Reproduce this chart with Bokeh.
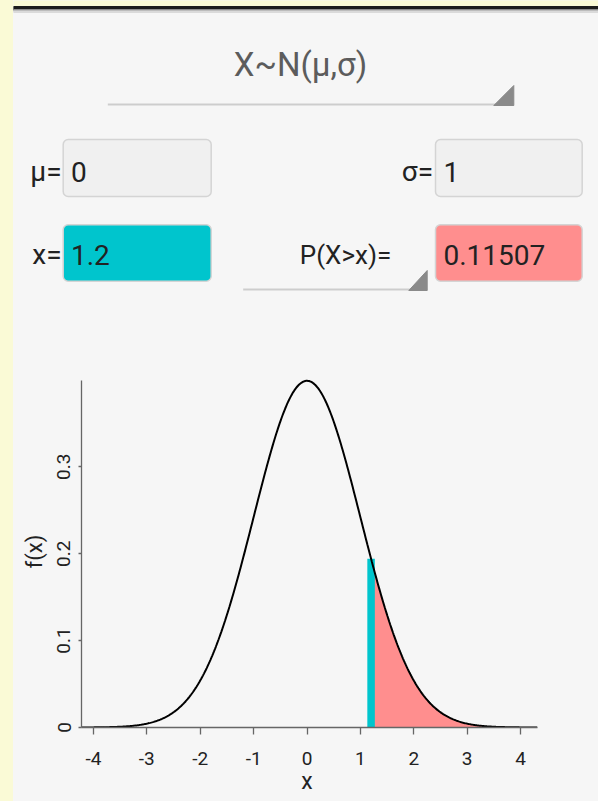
import math
from bokeh.plotting import figure
from bokeh.layouts import row, column
from bokeh.models import FixedTicker, Range1d, LinearAxis
from bokeh.core.properties import value
from bokeh.embed import file_html
from bokeh.resources import INLINE

# ---------------- data ----------------
mu_values = [0]
sigma_values = [1]
x_values = [1.2]
curve_limits = [-4.22, 4.31]
x_ticks = [-4, -3, -2, -1, 0, 1, 2, 3, 4]
x_tick_labels = ["-4", "-3", "-2", "-1", "0", "1", "2", "3", "4"]
y_ticks = [0, 0.1, 0.2, 0.3]
y_tick_labels = ["0", "0.1", "0.2", "0.3"]
title_text = "X~N(μ,σ)"
prob_text = "P(X>x)="
x_axis_label = "x"
y_axis_label = "f(x)"

mu = mu_values[0]
sigma = sigma_values[0]
x0 = x_values[0]


def dnorm(v):
    return math.exp(-0.5 * ((v - mu) / sigma) ** 2) / (sigma * math.sqrt(2 * math.pi))


p_upper = 0.5 * math.erfc((x0 - mu) / (sigma * math.sqrt(2)))

n = 500
curve_x = [curve_limits[0] + (curve_limits[1] - curve_limits[0]) * i / (n - 1) for i in range(n)]
curve_y = [dnorm(v) for v in curve_x]
tail_x = [x0] + [v for v in curve_x if v > x0]
tail_y = [dnorm(v) for v in tail_x]

# ---------------- styles ----------------
BG = "#F6F6F6"
YELLOW = "#FAFAD6"
CYAN = "#00C5CD"
RED = "#FF8E8E"
FONT = "Roboto"
TXT = "#222222"
W_MAIN = 585

# ---------------- left strip ----------------
strip = figure(width=13, height=801, x_range=(0, 1), y_range=(0, 1), min_border=0,
               output_backend="svg", toolbar_location=None)
strip.axis.visible = False
strip.grid.visible = False
strip.outline_line_color = None
strip.background_fill_color = YELLOW
strip.border_fill_color = YELLOW
strip.quad(left=[0], right=[1], bottom=[0], top=[1], color=YELLOW)
strip.frame_align = False

# ---------------- UI panel ----------------
ui = figure(width=W_MAIN, height=360, x_range=Range1d(13, 598), y_range=Range1d(360, 0),
            min_border=0, output_backend="svg", toolbar_location=None)
ui.frame_align = False
ui.axis.visible = False
ui.grid.visible = False
ui.outline_line_color = None
ui.background_fill_color = BG
ui.border_fill_color = BG

# top bar + shadow
ui.quad(left=[13], right=[598], top=[0], bottom=[6], color=YELLOW)
ui.quad(left=[13], right=[598], top=[6], bottom=[9.3], color="#1c1c1c")
ui.quad(left=[13], right=[598], top=[9.3], bottom=[10.6], color="#a8a8a8")
ui.quad(left=[13], right=[598], top=[10.6], bottom=[12], color="#dadada")

# title spinner
ui.text(x=[300], y=[64], text=[title_text], text_align="center", text_baseline="middle",
        text_font=value(FONT), text_font_size="33px", text_color="#5c5c5c")
ui.segment(x0=[107.3], y0=[104], x1=[513.3], y1=[104], line_color="#cdcdcd", line_width=2)
ui.patch(x=[493.3, 513.3, 513.3], y=[105, 105, 85], color="#8a8a8a")

# input boxes
box_kw = dict(line_color="#d4d4d4", line_width=1.5, border_radius=5)
ui.quad(left=[62.7], right=[210.7], top=[139], bottom=[196], fill_color="#f0f0f0", **box_kw)
ui.quad(left=[435], right=[581.7], top=[139], bottom=[196], fill_color="#f0f0f0", **box_kw)
ui.quad(left=[62.7], right=[210.7], top=[224.3], bottom=[280.7], fill_color=CYAN, **box_kw)
ui.quad(left=[435], right=[581.7], top=[224.3], bottom=[280.7], fill_color=RED, **box_kw)

lab_kw = dict(text_baseline="middle", text_font=value(FONT), text_font_size="28px", text_color=TXT)
ROW1 = 171
ROW2 = 254
ui.text(x=[61], y=[ROW1], text=["μ="], text_align="right", **lab_kw)
ui.text(x=[432.5], y=[ROW1], text=["σ="], text_align="right", **lab_kw)
ui.text(x=[61], y=[ROW2], text=["x="], text_align="right", **lab_kw)
ui.text(x=[70.5], y=[ROW1], text=[f"{mu:g}"], text_align="left", **lab_kw)
ui.text(x=[443], y=[ROW1], text=[f"{sigma:g}"], text_align="left", **lab_kw)
ui.text(x=[70.5], y=[ROW2], text=[f"{x0:g}"], text_align="left", **lab_kw)
ui.text(x=[443], y=[ROW2], text=[f"{p_upper:.5f}"], text_align="left", **lab_kw)

# P(X>x)= spinner
ui.text(x=[345], y=[ROW2], text=[prob_text], text_align="center", text_baseline="middle",
        text_font=value(FONT), text_font_size="26px", text_color=TXT)
ui.segment(x0=[242.7], y0=[289], x1=[426.7], y1=[289], line_color="#cdcdcd", line_width=2)
ui.patch(x=[408.3, 426.7, 426.7], y=[290, 290, 270], color="#8a8a8a")

# ---------------- chart ----------------
PX_PER_X = 53.4
X_ZERO = 306.5          # screen x of x=0
PX_PER_Y = 869.0
FRAME_LEFT = 81.0
FRAME_RIGHT = 560.0
FRAME_TOP = 375.0
FRAME_BOTTOM = 727.0

xs = (FRAME_LEFT - X_ZERO) / PX_PER_X
xe = xs + (FRAME_RIGHT - FRAME_LEFT) / PX_PER_X
ye = (FRAME_BOTTOM - FRAME_TOP) / PX_PER_Y

ch = figure(width=W_MAIN, height=441, x_range=Range1d(xs, xe), y_range=Range1d(0, ye),
            min_border_left=int(FRAME_LEFT - 13), min_border_right=int(598 - FRAME_RIGHT),
            min_border_top=int(FRAME_TOP - 360), min_border_bottom=int(801 - FRAME_BOTTOM),
            output_backend="svg", toolbar_location=None)
ch.frame_align = False
ch.grid.visible = False
ch.outline_line_color = None
ch.background_fill_color = BG
ch.border_fill_color = BG

ch.varea(x=tail_x, y1=[0] * len(tail_x), y2=tail_y, fill_color=RED)
ch.segment(x0=[x0], y0=[0], x1=[x0], y1=[dnorm(x0)], line_color=CYAN, line_width=7.5)
ch.line(curve_x, curve_y, line_color="black", line_width=2)

xa = ch.xaxis[0]
ya = ch.yaxis[0]
xa.ticker = FixedTicker(ticks=x_ticks)
xa.major_label_overrides = {t: l for t, l in zip(x_ticks, x_tick_labels)}
ya.ticker = FixedTicker(ticks=y_ticks)
ya.major_label_overrides = {t: l for t, l in zip(y_ticks, y_tick_labels)}
xa.bounds = (curve_limits[0], curve_limits[1])
ya.bounds = (0, dnorm(mu))
ya.axis_label = y_axis_label

for ax in (xa, ya):
    ax.axis_line_color = "#666666"
    ax.axis_line_width = 1.3
    ax.major_tick_line_color = "#666666"
    ax.major_tick_line_width = 1.3
    ax.minor_tick_line_color = None
    ax.major_tick_in = 0
    ax.major_label_text_font = FONT
    ax.major_label_text_font_size = "19px"
    ax.major_label_text_color = TXT
    ax.axis_label_text_font = FONT
    ax.axis_label_text_font_style = "normal"
    ax.axis_label_text_font_size = "22px"
    ax.axis_label_text_color = TXT

xa.major_tick_out = 7
xa.major_label_standoff = 17
ya.major_tick_out = 3
ya.major_label_orientation = "parallel"
ya.major_label_standoff = 8
ya.axis_label_standoff = 8

# x axis title: a second, line-less bottom axis with a single label centred at the mean
title_axis = LinearAxis(ticker=FixedTicker(ticks=[mu]), major_label_overrides={mu: x_axis_label},
                        axis_line_color=None, major_tick_line_color=None, minor_tick_line_color=None,
                        major_tick_in=0, major_tick_out=0, major_label_standoff=0,
                        major_label_text_font=FONT, major_label_text_font_size="23px",
                        major_label_text_color=TXT)
ch.add_layout(title_axis, "below")

layout = row(strip, column(ui, ch, styles={"background-color": BG}),
             styles={"background-color": YELLOW})
open("out.html", "w").write(file_html(layout, INLINE))
